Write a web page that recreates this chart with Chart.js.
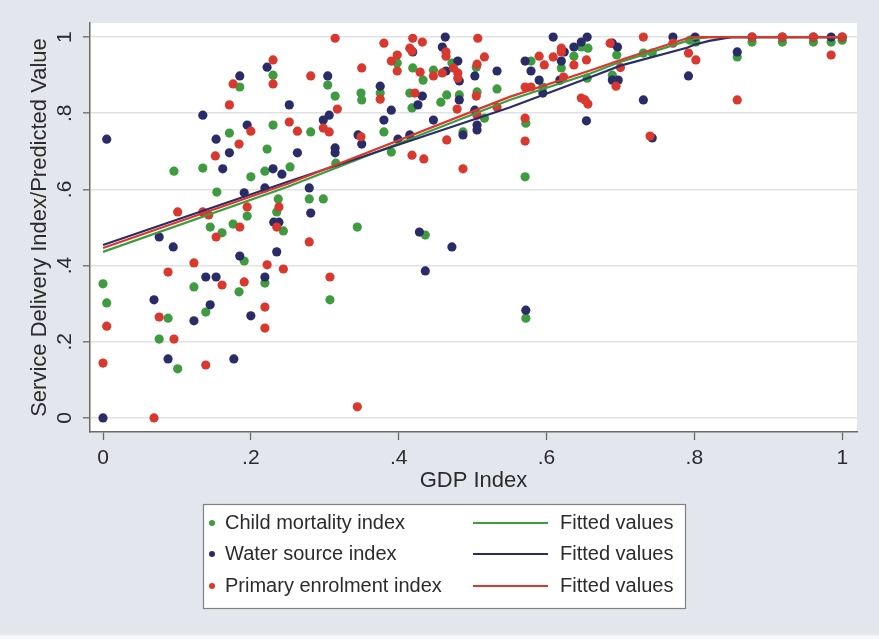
<!DOCTYPE html>
<html><head><meta charset="utf-8">
<script src="https://cdn.jsdelivr.net/npm/chart.js@4.4.1/dist/chart.umd.min.js"></script>
<style>html,body{margin:0;padding:0;background:#e4e6ee;}#wrap{width:879px;height:639px;position:relative;}</style>
</head><body><div id="wrap"><canvas id="c" width="879" height="639"></canvas></div>
<script>
// ---- data ----
const seriesLabels = ['Child mortality index', 'Water source index', 'Primary enrolment index'];
const fitLabel = 'Fitted values';
const xTickValues = [0, 0.2, 0.4, 0.6, 0.8, 1];
const xTickLabels = ['0', '.2', '.4', '.6', '.8', '1'];
const yTickValues = [0, 0.2, 0.4, 0.6, 0.8, 1];
const yTickLabels = ['0', '.2', '.4', '.6', '.8', '1'];

const childX = [0.000,0.005,0.088,0.076,0.101,0.123,0.139,0.145,0.161,0.176,0.191,0.184,0.219,0.244,0.096,0.135,0.171,0.185,0.154,0.200,0.195,0.222,0.219,0.253,0.237,0.235,0.230,0.230,0.281,0.304,0.279,0.298,0.314,0.315,0.375,0.349,0.350,0.380,0.390,0.398,0.419,0.433,0.447,0.472,0.465,0.457,0.415,0.418,0.482,0.487,0.505,0.506,0.516,0.533,0.344,0.436,0.307,0.572,0.579,0.620,0.647,0.656,0.637,0.655,0.595,0.572,0.571,0.689,0.695,0.731,0.743,0.794,0.802,0.858,0.878,0.919,0.961,0.985,1.000];
const childY = [0.352,0.302,0.262,0.207,0.129,0.344,0.278,0.501,0.486,0.509,0.412,0.331,0.354,0.491,0.648,0.656,0.748,0.869,0.593,0.633,0.530,0.706,0.648,0.659,0.575,0.541,0.900,0.769,0.751,0.874,0.575,0.575,0.845,0.669,0.853,0.853,0.835,0.751,0.698,0.932,0.919,0.887,0.913,0.932,0.848,0.829,0.853,0.814,0.848,0.751,0.921,0.856,0.787,0.864,0.501,0.480,0.310,0.262,0.937,0.919,0.974,0.971,0.950,0.892,0.869,0.774,0.633,0.900,0.953,0.958,0.958,0.992,0.987,0.948,0.987,0.987,0.987,0.987,0.992];

const waterX = [0,0.076,0.095,0.069,0.088,0.123,0.139,0.153,0.145,0.177,0.185,0.200,0.219,0.235,0.231,0.238,0.005,0.135,0.153,0.171,0.185,0.195,0.162,0.191,0.219,0.230,0.242,0.222,0.252,0.263,0.304,0.306,0.298,0.279,0.281,0.314,0.314,0.375,0.390,0.380,0.345,0.350,0.399,0.415,0.447,0.419,0.463,0.459,0.464,0.480,0.482,0.432,0.426,0.482,0.487,0.503,0.503,0.506,0.506,0.533,0.428,0.472,0.436,0.572,0.609,0.571,0.579,0.624,0.620,0.618,0.637,0.647,0.655,0.590,0.595,0.654,0.689,0.696,0.689,0.697,0.731,0.743,0.771,0.792,0.801,0.858,0.878,0.919,0.961,0.985,1.000];
const waterY = [0,0.475,0.449,0.310,0.155,0.255,0.370,0.370,0.297,0.155,0.425,0.268,0.370,0.436,0.514,0.514,0.732,0.795,0.732,0.696,0.898,0.769,0.654,0.591,0.604,0.654,0.640,0.921,0.822,0.696,0.898,0.795,0.782,0.604,0.538,0.709,0.696,0.871,0.808,0.782,0.743,0.719,0.732,0.743,0.782,0.961,1.000,0.974,0.911,0.937,0.885,0.845,0.822,0.835,0.743,0.898,0.808,0.769,0.756,0.911,0.488,0.449,0.386,0.283,1.000,0.937,0.911,0.961,0.937,0.887,0.974,0.987,1.000,0.887,0.853,0.780,0.984,0.974,0.887,0.887,0.835,0.735,1.000,0.898,1.000,0.961,1.000,1.000,1.000,1.000,1.000];

const enrolX = [0.005,0,0.076,0.088,0.096,0.069,0.123,0.161,0.139,0.153,0.185,0.191,0.222,0.219,0.219,0.244,0.235,0.152,0.171,0.176,0.200,0.184,0.195,0.101,0.135,0.143,0.238,0.230,0.230,0.252,0.263,0.281,0.298,0.306,0.314,0.317,0.350,0.375,0.349,0.418,0.434,0.487,0.465,0.380,0.390,0.398,0.398,0.415,0.418,0.419,0.432,0.429,0.447,0.464,0.464,0.459,0.474,0.480,0.480,0.422,0.479,0.507,0.516,0.506,0.505,0.506,0.533,0.279,0.307,0.344,0.590,0.597,0.609,0.620,0.620,0.623,0.637,0.654,0.571,0.579,0.647,0.652,0.656,0.571,0.571,0.686,0.700,0.694,0.731,0.740,0.771,0.792,0.802,0.858,0.878,0.919,0.961,0.985,1.000];
const enrolY = [0.241,0.144,0.265,0.383,0.207,0,0.407,0.349,0.139,0.475,0.501,0.357,0.402,0.291,0.236,0.391,0.501,0.688,0.822,0.877,0.753,0.719,0.554,0.541,0.541,0.533,0.554,0.940,0.877,0.777,0.753,0.898,0.761,0.751,0.997,0.811,0.919,0.837,0.738,0.690,0.680,0.654,0.730,0.984,0.937,0.953,0.911,0.971,0.963,0.997,0.987,0.908,0.898,0.961,0.950,0.906,0.919,0.906,0.892,0.853,0.811,0.997,0.948,0.929,0.845,0.795,0.816,0.462,0.370,0.029,0.950,0.927,0.948,0.971,0.961,0.895,0.927,0.940,0.869,0.869,0.840,0.835,0.824,0.787,0.727,0.984,0.920,0.871,1.000,0.740,0.984,0.958,0.940,0.835,1.000,1.000,1.000,0.953,1.000];

const fitX     = [0,     0.25,  0.55,  0.66,  0.70,  0.79,  0.80,  0.82,  0.85,  1];
const fitChild = [0.436, 0.607, 0.835, 0.905, 0.935, 0.990, 0.995, 1.000, 1.000, 1];
const fitWater = [0.454, 0.620, 0.815, 0.895, 0.925, 0.972, 0.980, 0.990, 1.000, 1];
const fitEnrol = [0.446, 0.615, 0.843, 0.913, 0.940, 0.997, 1.000, 1.000, 1.000, 1];

// ---- styling ----
const COLORS = ['#3f9b3f', '#2a2c68', '#d8382d'];
const FONT = "'Liberation Sans', Arial, Helvetica, sans-serif";
const TEXT = '#2b2b2b';
const pairs = (xs, ys) => xs.map((x, i) => ({x, y: ys[i]}));

const scatterDs = (i, xs, ys, order) => ({
  type: 'scatter', label: seriesLabels[i], data: pairs(xs, ys),
  backgroundColor: COLORS[i], borderWidth: 0, pointRadius: 4.6, pointHoverRadius: 4.6, order
});
const lineDs = (i, ys, order) => ({
  type: 'line', label: fitLabel, data: pairs(fitX, ys), borderColor: COLORS[i],
  borderWidth: 2.2, pointRadius: 0, fill: false, tension: 0, order, isFit: true
});

const bgPlugin = {
  id: 'bg',
  beforeDraw(chart) {
    const {ctx, chartArea: a} = chart;
    ctx.save();
    ctx.fillStyle = '#e4e6ee';
    ctx.fillRect(0, 0, chart.width, chart.height);
    ctx.fillStyle = '#f7f7fa';
    ctx.fillRect(0, 635, chart.width, 4);
    ctx.fillStyle = '#ffffff';
    ctx.fillRect(a.left, a.top, a.right - a.left, a.bottom - a.top - 1);
    ctx.restore();
  }
};

const legendPlugin = {
  id: 'stataLegend',
  afterDraw(chart) {
    const o = chart.options.plugins.stataLegend;
    const {ctx} = chart;
    const ds = chart.data.datasets;
    ctx.save();
    ctx.fillStyle = '#ffffff';
    ctx.fillRect(o.x, o.y, o.w, o.h);
    ctx.strokeStyle = '#808080';
    ctx.lineWidth = 1.2;
    ctx.strokeRect(o.x + 0.5, o.y + 0.5, o.w, o.h);
    ctx.font = o.fontSize + 'px ' + FONT;
    ctx.textBaseline = 'middle';
    ctx.textAlign = 'left';
    const scat = ds.filter(d => !d.isFit);
    const fits = ds.filter(d => d.isFit);
    scat.forEach((d, i) => {
      const y = o.rowY[i];
      ctx.fillStyle = d.backgroundColor;
      ctx.beginPath(); ctx.arc(o.dotX, y, 3, 0, Math.PI * 2); ctx.fill();
      ctx.fillStyle = TEXT;
      ctx.fillText(d.label, o.textX, y);
      const f = fits[i];
      ctx.strokeStyle = f.borderColor; ctx.lineWidth = 2.2;
      ctx.beginPath(); ctx.moveTo(o.lineX0, y); ctx.lineTo(o.lineX1, y); ctx.stroke();
      ctx.fillStyle = TEXT;
      ctx.fillText(f.label, o.fitTextX, y);
    });
    ctx.restore();
  }
};

new Chart(document.getElementById('c'), {
  data: {
    datasets: [
      scatterDs(0, childX, childY, 3),
      scatterDs(1, waterX, waterY, 2),
      scatterDs(2, enrolX, enrolY, 1),
      lineDs(0, fitChild, 0),
      lineDs(1, fitWater, -1),
      lineDs(2, fitEnrol, -2)
    ]
  },
  options: {
    responsive: false,
    animation: false,
    events: [],
    layout: {padding: {top: 23, right: 22, left: 0, bottom: 0}},
    plugins: {
      legend: {display: false},
      tooltip: {enabled: false},
      stataLegend: {x: 203, y: 504, w: 482, h: 104, rowY: [523, 554, 586], dotX: 212, textX: 225,
                    lineX0: 473, lineX1: 548, fitTextX: 560, fontSize: 20}
    },
    scales: {
      x: {
        type: 'linear', min: -0.0176, max: 1.02,
        afterFit(s) { s.height = 207; },
        afterBuildTicks(s) { s.ticks = xTickValues.map(v => ({value: v})); },
        ticks: {
          callback: (v) => { const i = xTickValues.findIndex(t => Math.abs(t - v) < 1e-9); return i >= 0 ? xTickLabels[i] : ''; },
          font: {family: FONT, size: 21}, color: TEXT, padding: 6, maxRotation: 0, minRotation: 0
        },
        grid: {drawOnChartArea: false, drawTicks: true, tickLength: 8, tickColor: '#6a6a6a', tickWidth: 1.3},
        border: {display: true, color: '#6a6a6a', width: 1.5},
        title: {display: true, text: 'GDP Index', font: {family: FONT, size: 22}, color: TEXT, padding: {top: 0, bottom: 145}}
      },
      y: {
        type: 'linear', min: -0.037, max: 1.037,
        afterFit(s) { s.width = 90; },
        afterBuildTicks(s) { s.ticks = yTickValues.map(v => ({value: v})); },
        ticks: {
          callback: (v) => { const i = yTickValues.findIndex(t => Math.abs(t - v) < 1e-9); return i >= 0 ? yTickLabels[i] : ''; },
          font: {family: FONT, size: 21}, color: TEXT, padding: 9, minRotation: 90, maxRotation: 90, crossAlign: 'center'
        },
        grid: {drawOnChartArea: true, color: '#e2e2e6', lineWidth: 1.6, drawTicks: true, tickLength: 7, tickColor: '#6a6a6a', tickWidth: 1.3},
        border: {display: true, color: '#6a6a6a', width: 1.5},
        title: {display: true, text: 'Service Delivery Index/Predicted Value', font: {family: FONT, size: 22}, color: TEXT, padding: {top: 27, bottom: 0}}
      }
    }
  },
  plugins: [bgPlugin, legendPlugin]
});
</script>
</body></html>
